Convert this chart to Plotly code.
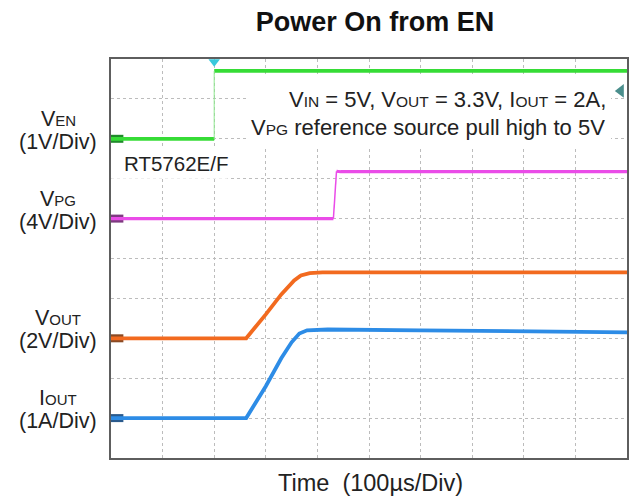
import plotly.graph_objects as go

# ---- time base: 100 us/div, 10 divisions ----
time_range_us = [0, 1000]

# ---- channel waveforms (time in us, value in channel units) ----
en_t = [0, 200, None, 200, 1000]
en_v = [0, 0, None, 1.7, 1.7]
en_edge_t = [200, 200]
en_edge_v = [0, 1.7]

vpg_t = [0, 431, None, 437, 445, 600, 800, 1000]
vpg_v = [0, 0, None, 4.75, 4.7, 4.7, 4.7, 4.7]
vpg_edge_t = [431, 437]
vpg_edge_v = [0, 4.75]

vout_t = [0, 262, 300, 330, 355, 368, 385, 410, 1000]
vout_v = [0, 0, 1.2, 2.2, 2.9, 3.15, 3.27, 3.3, 3.3]

iout_t = [0, 262, 300, 330, 350, 365, 380, 420, 600, 800, 1000]
iout_v = [0, 0, 0.8, 1.5, 1.9, 2.12, 2.2, 2.22, 2.2, 2.17, 2.15]

# trigger settings
trig_time_us = 200
trig_level_v = 1.2

# channel setup: scale per div, ground position (div from bottom)
channels = {
    "en":   {"scale": 1, "ground": 8, "name": "EN",  "unit": "(1V/Div)",  "prefix": "V"},
    "vpg":  {"scale": 4, "ground": 6, "name": "PG",  "unit": "(4V/Div)",  "prefix": "V"},
    "vout": {"scale": 2, "ground": 3, "name": "OUT", "unit": "(2V/Div)",  "prefix": "V"},
    "iout": {"scale": 1, "ground": 1, "name": "OUT", "unit": "(1A/Div)",  "prefix": "I"},
}
axis_of = {"en": "y2", "vpg": "y3", "vout": "y4", "iout": "y5"}

colors = {"en": "#36dc36", "vpg": "#ea4ce8", "vout": "#f26a1f", "iout": "#2d8ce6"}
ground_colors = {"en": "#1f8a2a", "vpg": "#7e3a80", "vout": "#8a4a24", "iout": "#2a5a8c"}

FONT = "Liberation Sans, Arial, sans-serif"
W, H = 640, 499
ML, MR, MT, MB = 111, 11, 59, 41

fig = go.Figure()

def add(t, v, ch, width, color, **kw):
    fig.add_trace(go.Scatter(x=t, y=v, yaxis=axis_of[ch], mode="lines",
                             line=dict(color=color, width=width),
                             hoverinfo="skip", showlegend=False, **kw))

# ground reference tabs at left edge
for ch in channels:
    add([0, 24], [0, 0], ch, 8, ground_colors[ch])

add(en_t, en_v, "en", 3.8, colors["en"])
add(en_edge_t, en_edge_v, "en", 1, "#8fe88f")
add(vpg_t, vpg_v, "vpg", 3.2, colors["vpg"])
add(vpg_edge_t, vpg_edge_v, "vpg", 1.5, colors["vpg"])
add(vout_t, vout_v, "vout", 3.8, colors["vout"])
add(iout_t, iout_v, "iout", 3.8, colors["iout"])

# trigger position (top) and trigger level (right) markers
fig.add_trace(go.Scatter(x=[trig_time_us], y=[9.93], yaxis="y", mode="markers",
                         marker=dict(symbol="triangle-down", size=10, color="#39c8dc"),
                         cliponaxis=False, hoverinfo="skip", showlegend=False))
fig.add_trace(go.Scatter(x=[988], y=[trig_level_v], yaxis="y2", mode="markers",
                         marker=dict(symbol="triangle-left", size=12, color="#4a8e8c"),
                         cliponaxis=False, hoverinfo="skip", showlegend=False))

grid = dict(showgrid=True, gridcolor="#bcbcbc", griddash="dot", gridwidth=1,
            showticklabels=False, ticks="", zeroline=False,
            showline=True, mirror=True, linecolor="#5e5e5e", linewidth=2)

layout_axes = dict(
    xaxis=dict(range=time_range_us, dtick=100, **grid),
    yaxis=dict(range=[0, 10], dtick=1, **grid),
)
for ch, ax in axis_of.items():
    s, g = channels[ch]["scale"], channels[ch]["ground"]
    key = "yaxis" + ax[1:]
    layout_axes[key] = dict(range=[-g * s, (10 - g) * s], overlaying="y",
                            visible=False, fixedrange=True)

annotations = []
# channel labels on the left
for ch, c in channels.items():
    g = c["ground"]
    annotations.append(dict(
        text=f'{c["prefix"]}<span style="font-size:15px">{c["name"]}</span>',
        xref="paper", yref="y", x=-0.102, y=g + 0.5, xanchor="center", yanchor="middle",
        showarrow=False, font=dict(family=FONT, size=21.5, color="#222")))
    annotations.append(dict(
        text=c["unit"], xref="paper", yref="y", x=-0.102, y=g - 0.08,
        xanchor="center", yanchor="middle",
        showarrow=False, font=dict(family=FONT, size=21.5, color="#222")))

sub = '<span style="font-size:15.5px">{}</span>'
cond_1 = f'V{sub.format("IN")} = 5V, V{sub.format("OUT")} = 3.3V, I{sub.format("OUT")} = 2A,'
cond_2 = f'V{sub.format("PG")} reference source pull high to 5V'
annotations.append(dict(text=cond_1, xref="x", yref="y", x=963, y=8.98,
                        xanchor="right", yanchor="middle", showarrow=False,
                        font=dict(family=FONT, size=22, color="#222")))
annotations.append(dict(text=cond_2, xref="x", yref="y", x=962, y=8.28,
                        xanchor="right", yanchor="middle", showarrow=False,
                        font=dict(family=FONT, size=22, color="#222")))
annotations.append(dict(text="RT5762E/F", xref="x", yref="y", x=22, y=7.38,
                        xanchor="left", yanchor="middle", showarrow=False,
                        font=dict(family=FONT, size=20.5, color="#222")))
annotations.append(dict(text="Time  (100\u00b5s/Div)", xref="paper", yref="paper",
                        x=0.502, y=-0.063, xanchor="center", yanchor="middle",
                        showarrow=False, font=dict(family=FONT, size=23.5, color="#222")))

# white backing panels behind the text blocks
shapes = [
    dict(type="rect", xref="x", yref="y", x0=262, x1=969, y0=7.8, y1=9.6,
         fillcolor="white", line=dict(width=0), layer="between"),
    dict(type="rect", xref="x", yref="y", x0=0.5, x1=226, y0=7.0, y1=7.8,
         fillcolor="white", line=dict(width=0), layer="between"),
]

fig.update_layout(
    width=W, height=H,
    margin=dict(l=ML, r=MR, t=MT, b=MB),
    paper_bgcolor="white", plot_bgcolor="white",
    title=dict(text="<b>Power On from EN</b>", x=375 / W, xref="container",
               xanchor="center", y=1 - 22 / H, yref="container", yanchor="middle",
               font=dict(family=FONT, size=27, color="#111")),
    annotations=annotations, shapes=shapes,
    **layout_axes,
)

fig.write_html("out.html")
